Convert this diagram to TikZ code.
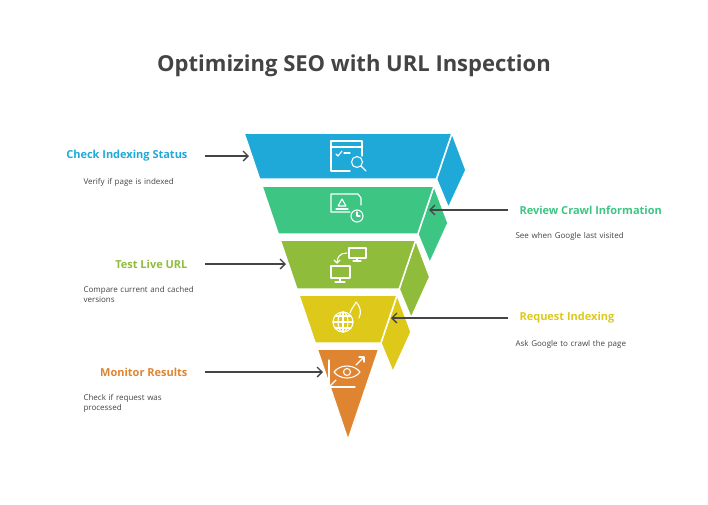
\documentclass[tikz,border=0pt]{standalone}
\usepackage{fontspec}
\usetikzlibrary{arrows.meta}
\setmainfont{Open Sans}
\definecolor{cb}{HTML}{1FA9D9}
\definecolor{cg}{HTML}{3CC583}
\definecolor{co}{HTML}{8FBC3A}
\definecolor{cy}{HTML}{DEC91B}
\definecolor{cr}{HTML}{DF8431}
\definecolor{tx}{HTML}{444444}
\begin{document}
\begin{tikzpicture}[x=1pt,y=-1pt,
 band/.style={draw=white,line width=1.5pt,line join=round},
 ico/.style={draw=white,line width=1.1pt,line cap=round,line join=round},
 ttl/.style={font=\bfseries\fontsize{11}{13}\selectfont},
 dsc/.style={font=\fontsize{8}{10}\selectfont,text=tx,align=left,text width=120pt},
 arr/.style={draw=tx,line width=1.3pt,-{Straight Barb[length=5pt,width=10pt]}}]
\useasboundingbox (0,0) rectangle (708,504);
\node[font=\bfseries\fontsize{22}{26}\selectfont,text=tx] (title) at (354,66) {Optimizing SEO with URL Inspection};
\def\L#1{244+0.33876*(#1-133)}
\def\R#1{452-0.33876*(#1-133)}
\foreach \t/\b/\c in {133/179/cb,186/234/cg,240/289/co,295/343/cy}{
  \fill[\c,band] ({\R{\t}},\t) -- ({\R{\t}+14},\t+37) -- ({\R{\b}+12},\b+29) -- ({\R{\b}},\b) -- cycle;
  \fill[\c,band] ({\L{\t}},\t) -- ({\R{\t}},\t) -- ({\R{\b}},\b) -- ({\L{\b}},\b) -- cycle;
}
\fill[cr,band] (356,349) -- (368,384) -- (350,438) -- cycle;
\fill[cr,band] ({\L{349}},349) -- ({\R{349}},349) -- (348,440) -- cycle;
\begin{scope}[ico]
 \draw (348,141) -- (331,141) -- (331,171) -- (350,171); \draw (331,147) -- (362,147) -- (362,156); \draw (348,141)--(362,141)--(362,147);
 \draw (336,154) -- (338,156) -- (342,151); \draw (344,153)--(350,153);
 \draw (357,162) circle (5.5); \draw (361,166) -- (366,171);
 \draw (350,212) -- (331,212) -- (331,194) -- (358,194) -- (361,198) -- (361,205);
 \draw (338,206) -- (342,199) -- (346,206) -- cycle; \draw (336,209)--(348,209);
 \draw (357,216) circle (6); \draw (357,212) -- (357,216) -- (360,216);
 \draw (349,248) rectangle (366,258); \draw (357,258)--(357,261); \draw (353,261)--(361,261);
 \draw (331,266) rectangle (350,278); \draw (340,278)--(340,282); \draw (335,282)--(345,282);
 \draw (347,253) .. controls (340,253) and (337,257) .. (337,263); \draw (334,260)--(337,263)--(340,260);
 \draw (343,322) circle (10); \draw (333,322)--(353,322); \draw (343,312)--(343,332);
 \draw (343,322) ellipse (5 and 10); \draw (335,316)--(351,316); \draw (335,328)--(351,328);
 \draw (350,313) .. controls (352,307) and (355,305) .. (356,302) .. controls (360,306) and (362,312) .. (359,318);
 \draw (334,372) .. controls (340,364) and (354,364) .. (360,372) .. controls (354,380) and (340,380) .. (334,372);
 \draw (347,372) circle (3.5);
 \draw (329,360) -- (329,387) -- (355,387); \draw (330,386)--(336,380); \draw (356,365)--(364,357); \draw (359,357)--(364,357)--(364,362);
\end{scope}
\node[ttl,text=cb,anchor=east] (t1) at (191,156) {Check Indexing Status};
\node[dsc,anchor=north west] (d1) at (80,175) {Verify if page is indexed};
\node[ttl,text=cg,anchor=west] (t2) at (516,210) {Review Crawl Information};
\node[dsc,anchor=north west] (d2) at (512,229) {See when Google last visited};
\node[ttl,text=co,anchor=east] (t3) at (191,264) {Test Live URL};
\node[dsc,anchor=north west] (d3) at (80,283) {Compare current and cached\\versions};
\node[ttl,text=cy,anchor=west] (t4) at (516,318) {Request Indexing};
\node[dsc,anchor=north west] (d4) at (512,337) {Ask Google to crawl the page};
\node[ttl,text=cr,anchor=east] (t5) at (191,372) {Monitor Results};
\node[dsc,anchor=north west] (d5) at (80,391) {Check if request was\\processed};
\coordinate (a1s) at (205,156); \coordinate (a1e) at (249,156);
\coordinate (a2s) at (508,210); \coordinate (a2e) at (429,210);
\coordinate (a3s) at (205,264); \coordinate (a3e) at (286,264);
\coordinate (a4s) at (508,318); \coordinate (a4e) at (391,318);
\coordinate (a5s) at (205,372); \coordinate (a5e) at (323,372);
\foreach \i in {1,...,5}{\draw[arr] (a\i s) -- (a\i e);}
\end{tikzpicture}
\end{document}
